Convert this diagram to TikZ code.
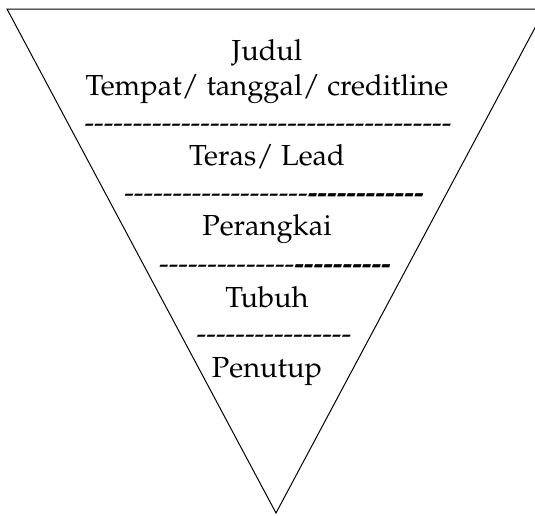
\documentclass[tikz,border=0pt]{standalone}
\usepackage[T1]{fontenc}
\usepackage{mathpazo}
\newcount\hycnt
\newcommand\hyrow[1]{\hycnt=0 \loop\ifnum\hycnt<#1 \advance\hycnt by 1 -{}\repeat}
\newcommand\hybrow[1]{\hycnt=0 \loop\ifnum\hycnt<#1 \advance\hycnt by 1 \textbf{-}{}\repeat}
\begin{document}
\begin{tikzpicture}[x=1pt,y=-1pt,
  lbl/.style={anchor=base,inner sep=0pt,font=\fontsize{29}{34}\selectfont},
  edge/.style={line width=1pt,black}]
\useasboundingbox (0,0) rectangle (535,515);
\coordinate (tl) at (7,9);
\coordinate (tr) at (545,9);
\coordinate (bt) at (276,513);
\draw[edge] (tl) -- (tr) -- (bt) -- cycle;
\node[lbl] (judul) at (267,60) {Judul};
\node[lbl] (tempat) at (267,95) {Tempat/ tanggal/ creditline};
\node[lbl] (d1) at (268,132) {\hyrow{38}};
\node[lbl] (teras) at (267,165) {Teras/ Lead};
\node[lbl] (d2) at (274,202) {\hyrow{19}\hybrow{12}};
\node[lbl] (perangkai) at (267,235) {Perangkai};
\node[lbl] (d3) at (275,273) {\hyrow{14}\hybrow{10}};
\node[lbl] (tubuh) at (267,307) {Tubuh};
\node[lbl] (d4) at (274,343) {\hyrow{16}};
\node[lbl] (penutup) at (267,377) {Penutup};
\end{tikzpicture}
\end{document}
